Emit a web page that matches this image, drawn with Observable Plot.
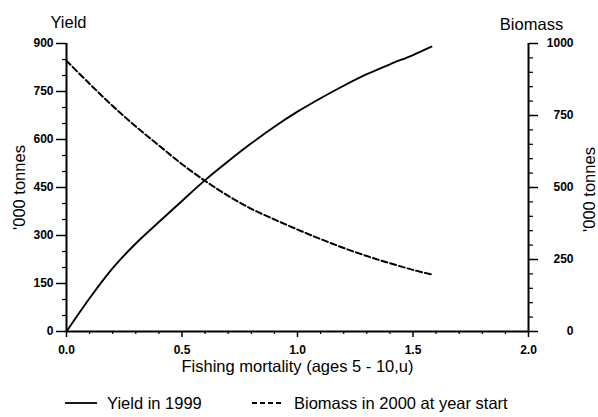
<!DOCTYPE html>
<html>
<head>
<meta charset="utf-8">
<script src="https://cdn.jsdelivr.net/npm/d3@7"></script>
<script src="https://cdn.jsdelivr.net/npm/@observablehq/plot@0.6"></script>
<style>
  html, body { margin: 0; padding: 0; background: #fff; }
  #chart { width: 598px; position: relative; }
  svg { display: block; }
</style>
</head>
<body>
<div id="chart"></div>
<script>
// Fishing mortality values (x)
const mortality = [0, 0.1, 0.2, 0.3, 0.4, 0.5, 0.6, 0.7, 0.8, 0.9, 1.0, 1.1, 1.2, 1.3, 1.4, 1.5, 1.58];
// Yield in 1999 ('000 tonnes, left axis)
const yield1999 = [0, 104, 198, 275, 342, 408, 473, 532, 588, 640, 687, 729, 768, 804, 835, 864, 890];
// Biomass in 2000 at year start ('000 tonnes, right axis)
const biomass2000 = [940, 860, 783, 712, 646, 581, 523, 471, 426, 389, 354, 321, 290, 262, 237, 214, 198];

const xTicks = [0, 0.5, 1.0, 1.5, 2.0];
const xMinorTicks = [0.1, 0.2, 0.3, 0.4, 0.6, 0.7, 0.8, 0.9, 1.1, 1.2, 1.3, 1.4, 1.6, 1.7, 1.8, 1.9];
const yieldTicks = [0, 150, 300, 450, 600, 750, 900];
const yieldMinorTicks = [50, 100, 200, 250, 350, 400, 500, 550, 650, 700, 800, 850];
const biomassTicks = [0, 250, 500, 750, 1000];
const biomassMinorTicks = [50, 100, 150, 200, 300, 350, 400, 450, 550, 600, 650, 700, 800, 850, 900, 950];

const xLabel = "Fishing mortality (ages 5 - 10,u)";
const leftTitle = "Yield";
const rightTitle = "Biomass";
const unitLabel = "'000 tonnes";
const seriesNames = ["Yield in 1999", "Biomass in 2000 at year start"];

// Biomass (0-1000) shares the frame with yield (0-900)
const k = 900 / 1000;

const yieldData = mortality.map((f, i) => ({f, v: yield1999[i]}));
const biomassData = mortality.map((f, i) => ({f, v: biomass2000[i] * k}));

const font = "'Liberation Sans', Arial, Helvetica, sans-serif";

const plot = Plot.plot({
  width: 598,
  height: 380,
  marginLeft: 66,
  marginRight: 70,
  marginTop: 43,
  marginBottom: 49,
  style: {fontFamily: font, background: "#fff", color: "#000"},
  x: {domain: [0, 2]},
  y: {domain: [0, 900]},
  marks: [
    // axis lines
    Plot.ruleX([0], {y1: 0, y2: 900, strokeWidth: 2}),
    Plot.ruleX([2], {y1: 0, y2: 1000 * k, strokeWidth: 2}),
    Plot.ruleY([0], {x1: 0, x2: 2, strokeWidth: 2}),
    // x axis
    Plot.axisX(xTicks, {anchor: "bottom", tickSize: 6, tickPadding: 8, strokeWidth: 1.5,
      fontSize: 12, fontWeight: "bold", tickFormat: d => d.toFixed(1), label: null}),
    Plot.axisX(xMinorTicks, {anchor: "bottom", tickSize: 3, strokeWidth: 1.2, fill: "none", label: null}),
    // left axis (yield)
    Plot.axisY(yieldTicks, {anchor: "left", tickSize: 10, tickPadding: 3, strokeWidth: 1.5,
      fontSize: 12, fontWeight: "bold", label: null}),
    Plot.axisY(yieldMinorTicks, {anchor: "left", tickSize: 4, strokeWidth: 1.2, fill: "none", label: null}),
    // right axis (biomass)
    Plot.axisY(biomassTicks.map(b => b * k), {anchor: "right", tickSize: 9, tickPadding: 36, strokeWidth: 1.5,
      textAnchor: "end", fontSize: 12, fontWeight: "bold", tickFormat: d => String(Math.round(d / k)), label: null}),
    Plot.axisY(biomassMinorTicks.map(b => b * k), {anchor: "right", tickSize: 4, strokeWidth: 1.2, fill: "none", label: null}),
    // titles & labels
    Plot.text([leftTitle], {frameAnchor: "top-left", dx: 2, dy: -27, fontSize: 16.5, textAnchor: "middle"}),
    Plot.text([rightTitle], {frameAnchor: "top-right", dx: 3, dy: -25, fontSize: 16.5, textAnchor: "middle"}),
    Plot.text([unitLabel], {frameAnchor: "left", dx: -47, dy: 0, rotate: -90, fontSize: 16.5, textAnchor: "middle"}),
    Plot.text([unitLabel], {frameAnchor: "right", dx: 61, dy: 2, rotate: -90, fontSize: 16.5, textAnchor: "middle"}),
    Plot.text([xLabel], {frameAnchor: "bottom", dy: 40, fontSize: 16.5, textAnchor: "middle"}),
    // series
    Plot.line(yieldData, {x: "f", y: "v", stroke: "#000", strokeWidth: 1.9, curve: "catmull-rom"}),
    Plot.line(biomassData, {x: "f", y: "v", stroke: "#000", strokeWidth: 2, strokeDasharray: "6,3", curve: "catmull-rom"})
  ]
});
document.getElementById("chart").appendChild(plot);

// legend below the plot
const legend = d3.create("svg").attr("width", 598).attr("height", 37)
  .style("font-family", font).style("font-size", "16.5px");
const items = [
  {name: seriesNames[0], x: 65, dash: null},
  {name: seriesNames[1], x: 252, dash: "5,3"}
];
for (const it of items) {
  legend.append("line").attr("x1", it.x).attr("x2", it.x + 32).attr("y1", 23).attr("y2", 23)
    .attr("stroke", "#000").attr("stroke-width", 1.8).attr("stroke-dasharray", it.dash);
  legend.append("text").attr("x", it.x + 42).attr("y", 29).text(it.name);
}
document.getElementById("chart").appendChild(legend.node());
</script>
</body>
</html>
